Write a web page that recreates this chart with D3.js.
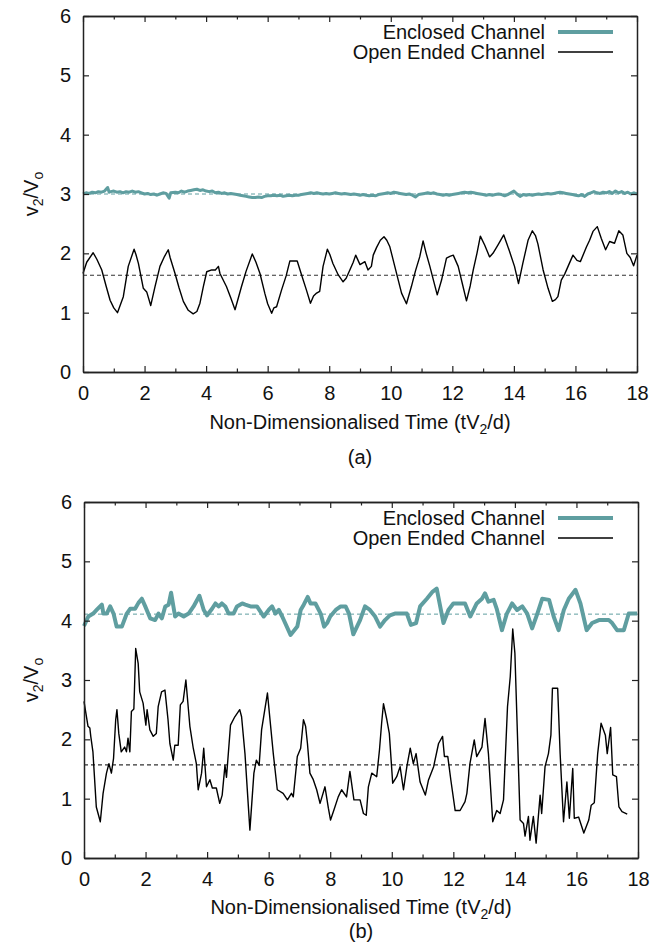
<!DOCTYPE html>
<html><head><meta charset="utf-8">
<script src="https://cdn.jsdelivr.net/npm/d3@7"></script>
<style>
body{margin:0;background:#fff}
svg{display:block}
text{font-family:"Liberation Sans",Arial,Helvetica,sans-serif;fill:#111}
</style>
</head><body>
<svg id="c" width="652" height="945"></svg>
<script>
// ---------- data ----------
const xTickValues = [0, 2, 4, 6, 8, 10, 12, 14, 16, 18];
const xMinorTickValues = [1, 3, 5, 7, 9, 11, 13, 15, 17];
const yTickValues = [0, 1, 2, 3, 4, 5, 6];
const seriesNames = ["Enclosed Channel", "Open Ended Channel"];
const panelLabels = ["(a)", "(b)"];
const meanEnclosed = [3.0, 4.11];
const meanOpen = [1.63, 1.57];

// panel (a) enclosed channel [t, v2/Vo]
const enclosedA = [
[0,3.00],[0.1,3.02],[0.2,3.01],[0.3,3.03],[0.4,3.02],[0.5,3.04],[0.6,3.03],[0.7,3.05],[0.8,3.11],[0.85,3.03],[0.9,3.04],[1.0,3.05],
[1.1,3.03],[1.2,3.04],[1.3,3.02],[1.4,3.04],[1.5,3.03],[1.6,3.05],[1.7,3.03],[1.8,3.04],[1.9,3.02],[2.0,3.00],
[2.1,3.01],[2.2,2.99],[2.3,3.00],[2.4,2.98],[2.5,3.00],[2.6,3.02],[2.7,3.01],[2.8,2.93],[2.85,3.02],[3.0,3.03],
[3.1,3.02],[3.2,3.05],[3.3,3.03],[3.4,3.05],[3.5,3.06],[3.6,3.07],[3.7,3.08],[3.8,3.06],[3.9,3.07],[4.0,3.05],
[4.1,3.04],[4.2,3.05],[4.3,3.02],[4.4,3.03],[4.5,3.01],[4.6,3.02],[4.7,3.00],[4.8,3.01],[4.9,3.00],[5.0,2.99],
[5.1,2.98],[5.2,2.97],[5.3,2.96],[5.4,2.95],[5.5,2.94],[5.6,2.94],[5.7,2.95],[5.8,2.94],[5.9,2.96],[6.0,2.97],
[6.1,2.97],[6.2,2.98],[6.3,2.97],[6.4,2.98],[6.5,2.96],[6.6,2.97],[6.7,2.98],[6.8,2.97],[6.9,2.98],[7.0,2.98],
[7.1,2.99],[7.2,3.00],[7.3,3.01],[7.4,3.02],[7.5,3.01],[7.6,3.02],[7.7,3.01],[7.8,3.00],[7.9,3.01],[8.0,3.00],
[8.1,3.01],[8.2,3.02],[8.3,3.01],[8.4,3.00],[8.5,3.01],[8.6,3.00],[8.7,2.99],[8.8,3.00],[8.9,2.99],[9.0,2.98],
[9.1,2.99],[9.2,2.98],[9.3,2.97],[9.4,2.98],[9.5,2.97],[9.6,2.99],[9.7,3.00],[9.8,3.01],[9.9,3.02],[10.0,3.01],
[10.1,3.03],[10.2,3.02],[10.3,3.01],[10.4,3.00],[10.5,2.99],[10.6,3.00],[10.7,2.98],[10.8,2.95],[10.9,2.99],[11.0,3.00],
[11.1,3.01],[11.2,3.02],[11.3,3.01],[11.4,3.02],[11.5,3.00],[11.6,2.99],[11.7,2.98],[11.8,2.99],[11.9,2.98],[12.0,2.99],
[12.1,3.00],[12.2,3.01],[12.3,3.02],[12.4,3.03],[12.5,3.02],[12.6,3.03],[12.7,3.02],[12.8,3.01],[12.9,3.00],[13.0,2.99],
[13.1,2.98],[13.2,2.99],[13.3,2.98],[13.4,2.99],[13.5,3.00],[13.6,2.99],[13.7,2.97],[13.8,2.99],[13.9,3.02],[14.0,3.05],
[14.1,3.00],[14.2,2.96],[14.3,2.99],[14.4,2.98],[14.5,2.99],[14.6,2.98],[14.7,2.99],[14.8,3.00],[14.9,2.99],[15.0,3.00],
[15.1,3.01],[15.2,3.00],[15.3,3.01],[15.4,3.02],[15.5,3.03],[15.6,3.02],[15.7,3.01],[15.8,3.00],[15.9,2.99],[16.0,2.98],
[16.1,2.97],[16.2,2.99],[16.3,2.96],[16.4,3.00],[16.5,3.02],[16.6,3.04],[16.7,3.02],[16.8,3.01],[16.9,3.03],[17.0,3.02],
[17.1,3.04],[17.2,3.01],[17.3,3.05],[17.4,3.02],[17.5,3.04],[17.6,3.01],[17.7,3.03],[17.8,3.00],[17.9,3.02],[18.0,3.00]
];

// panel (a) open ended channel
const openA = [
[0,1.66],[0.12,1.85],[0.33,2.01],[0.45,1.90],[0.61,1.72],[0.75,1.45],[0.88,1.21],[1.0,1.08],[1.12,1.00],[1.31,1.27],[1.47,1.78],
[1.66,2.07],[1.72,1.98],[1.80,1.83],[1.96,1.41],[2.07,1.35],[2.2,1.12],[2.34,1.44],[2.5,1.78],[2.65,1.95],[2.77,2.06],
[2.83,1.93],[2.99,1.66],[3.12,1.42],[3.26,1.19],[3.42,1.04],[3.58,0.98],[3.70,1.02],[3.80,1.16],[3.91,1.44],[4.02,1.69],
[4.18,1.72],[4.3,1.72],[4.4,1.78],[4.45,1.66],[4.66,1.44],[4.8,1.25],[4.94,1.05],[5.15,1.44],[5.3,1.70],[5.5,1.99],
[5.62,1.85],[5.75,1.66],[5.91,1.32],[6.0,1.15],[6.13,0.99],[6.20,1.08],[6.29,1.10],[6.45,1.38],[6.6,1.62],[6.72,1.87],
[6.96,1.87],[7.1,1.64],[7.26,1.38],[7.39,1.16],[7.49,1.28],[7.59,1.33],[7.69,1.36],[7.8,1.78],[7.94,2.07],[8.02,1.98],
[8.12,1.83],[8.29,1.64],[8.45,1.52],[8.55,1.58],[8.67,1.72],[8.78,1.85],[8.86,1.97],[9.0,1.81],[9.16,1.86],[9.26,1.72],
[9.37,1.78],[9.43,1.97],[9.54,2.10],[9.66,2.22],[9.78,2.28],[9.87,2.22],[9.97,2.11],[10.13,1.78],[10.35,1.33],[10.51,1.15],
[10.67,1.44],[10.8,1.70],[10.94,1.94],[11.05,2.21],[11.15,2.00],[11.27,1.78],[11.4,1.52],[11.51,1.30],[11.65,1.55],[11.81,1.92],
[11.92,1.95],[12.03,1.97],[12.19,1.78],[12.32,1.50],[12.46,1.20],[12.58,1.45],[12.68,1.72],[12.8,2.00],[12.91,2.29],[13.05,2.14],
[13.21,1.94],[13.32,2.00],[13.48,2.14],[13.67,2.31],[13.76,2.18],[13.86,2.03],[14.02,1.78],[14.15,1.49],[14.29,1.83],[14.46,2.22],
[14.6,2.38],[14.7,2.30],[14.78,2.16],[14.95,1.72],[15.11,1.41],[15.25,1.19],[15.35,1.22],[15.43,1.27],[15.54,1.55],[15.65,1.65],
[15.76,1.78],[15.92,1.97],[16.05,1.88],[16.16,1.86],[16.36,2.11],[16.46,2.22],[16.57,2.37],[16.71,2.45],[16.84,2.25],[16.98,2.06],
[17.11,2.20],[17.27,2.17],[17.41,2.38],[17.54,2.31],[17.67,2.00],[17.78,1.93],[17.89,1.79],[18.0,1.97]
];

// panel (b) enclosed channel
const enclosedB = [
[0,3.91],[0.14,4.07],[0.30,4.12],[0.41,4.18],[0.58,4.27],[0.63,4.12],[0.74,4.12],[0.85,4.24],[0.96,4.12],[1.06,3.90],
[1.23,3.90],[1.39,4.12],[1.50,4.20],[1.66,4.20],[1.77,4.30],[1.88,4.37],[1.99,4.24],[2.15,4.04],[2.31,4.01],[2.42,4.12],
[2.53,4.04],[2.64,4.24],[2.75,4.27],[2.83,4.47],[2.96,4.07],[3.07,4.12],[3.24,4.07],[3.40,4.12],[3.56,4.24],[3.75,4.42],
[3.89,4.18],[4.0,4.09],[4.16,4.20],[4.27,4.29],[4.38,4.24],[4.48,4.29],[4.59,4.24],[4.70,4.12],[4.86,4.12],[4.97,4.24],
[5.14,4.29],[5.24,4.27],[5.41,4.24],[5.62,4.24],[5.84,4.07],[6.0,4.18],[6.11,4.24],[6.22,4.12],[6.33,4.18],[6.44,4.07],
[6.71,3.76],[6.93,3.90],[7.04,4.18],[7.14,4.27],[7.27,4.40],[7.36,4.29],[7.52,4.29],[7.69,4.12],[7.80,3.90],[7.90,3.96],
[8.0,4.07],[8.18,4.18],[8.34,4.24],[8.50,4.24],[8.61,4.12],[8.75,3.77],[8.97,4.01],[9.13,4.24],[9.29,4.18],[9.46,4.07],
[9.62,3.90],[9.78,4.01],[9.94,4.09],[10.1,4.12],[10.49,4.12],[10.62,3.93],[10.79,3.96],[10.92,4.24],[11.14,4.37],[11.33,4.49],
[11.46,4.54],[11.68,3.96],[11.84,4.18],[12.0,4.29],[12.22,4.29],[12.38,4.29],[12.55,4.07],[12.76,4.29],[12.93,4.37],[13.03,4.46],
[13.14,4.32],[13.31,4.35],[13.41,4.20],[13.58,3.84],[13.74,4.12],[13.91,4.29],[14.07,4.18],[14.24,4.24],[14.40,4.12],[14.56,3.87],
[14.73,4.12],[14.89,4.37],[15.11,4.35],[15.26,4.07],[15.42,3.84],[15.59,4.18],[15.75,4.37],[15.97,4.52],[16.13,4.29],[16.33,3.84],
[16.51,3.96],[16.73,4.01],[16.89,4.01],[17.05,4.01],[17.16,3.96],[17.32,3.84],[17.54,3.84],[17.70,4.12],[17.97,4.12]
];

// panel (b) open ended channel
const openB = [
[0,2.64],[0.13,2.22],[0.19,2.19],[0.22,2.05],[0.29,1.79],[0.40,0.86],[0.53,0.61],[0.62,1.09],[0.73,1.43],[0.81,1.59],
[0.89,1.43],[0.96,1.68],[1.03,2.33],[1.07,2.50],[1.13,2.10],[1.21,1.79],[1.32,1.87],[1.38,1.79],[1.43,2.02],[1.49,1.79],
[1.54,2.47],[1.62,2.51],[1.68,3.53],[1.76,3.28],[1.81,2.80],[1.92,2.61],[2.01,2.24],[2.05,2.50],[2.14,2.16],[2.25,2.05],
[2.35,2.10],[2.41,2.55],[2.52,2.80],[2.63,2.83],[2.73,2.33],[2.79,1.93],[2.90,1.65],[2.95,1.90],[3.06,1.90],[3.13,2.58],
[3.22,2.64],[3.31,3.00],[3.44,2.22],[3.55,1.85],[3.65,1.59],[3.71,1.15],[3.82,1.43],[3.89,1.85],[3.98,1.20],[4.09,1.32],
[4.17,1.18],[4.30,1.18],[4.41,0.92],[4.49,1.06],[4.58,1.56],[4.63,1.36],[4.76,2.24],[4.90,2.38],[5.06,2.50],[5.12,2.38],
[5.23,1.76],[5.39,0.47],[5.52,1.43],[5.60,1.65],[5.69,1.56],[5.77,2.16],[5.96,2.78],[6.15,1.76],[6.28,1.15],[6.47,1.09],
[6.61,0.98],[6.74,1.09],[6.80,1.03],[6.93,1.71],[7.04,1.85],[7.13,2.33],[7.20,2.22],[7.26,1.93],[7.34,1.43],[7.45,1.32],
[7.56,1.15],[7.67,0.92],[7.83,1.20],[7.94,0.84],[8.01,0.64],[8.12,0.81],[8.26,1.03],[8.37,1.15],[8.53,1.03],[8.64,1.46],
[8.77,0.98],[8.97,0.98],[9.08,0.75],[9.17,0.72],[9.24,1.20],[9.35,1.43],[9.51,1.37],[9.60,1.82],[9.67,2.27],[9.73,2.60],
[9.84,2.33],[9.92,2.10],[10.03,1.26],[10.16,1.37],[10.27,1.54],[10.38,1.15],[10.49,1.54],[10.60,1.85],[10.70,1.59],[10.79,1.76],
[10.92,1.28],[11.09,1.06],[11.19,1.31],[11.36,1.54],[11.52,1.93],[11.65,2.05],[11.71,1.71],[11.82,1.71],[11.92,1.31],[12.06,0.80],
[12.22,0.80],[12.38,0.95],[12.44,1.09],[12.54,1.59],[12.68,1.99],[12.76,1.71],[12.93,1.87],[13.03,2.35],[13.14,1.76],[13.28,0.61],
[13.41,0.80],[13.52,0.75],[13.63,0.98],[13.76,2.55],[13.85,3.06],[13.93,3.86],[14.00,3.45],[14.17,0.64],[14.28,0.58],[14.33,0.37],
[14.44,0.70],[14.49,0.30],[14.60,0.70],[14.69,0.25],[14.82,1.06],[14.87,0.75],[14.98,1.54],[15.09,1.76],[15.17,2.07],[15.22,2.86],
[15.39,2.86],[15.47,1.76],[15.58,0.61],[15.69,1.28],[15.77,0.67],[15.88,1.51],[15.93,0.67],[16.07,0.69],[16.24,0.42],[16.40,0.64],
[16.48,0.89],[16.58,0.93],[16.69,1.76],[16.80,2.27],[16.94,2.07],[17.00,1.76],[17.11,2.20],[17.18,1.40],[17.30,1.37],[17.38,0.86],
[17.48,0.78],[17.65,0.74]
];

const enclosedSeries = [enclosedA, enclosedB];
const openSeries = [openA, openB];

// ---------- layout ----------
const TEAL = "#5f9ea0";
const panels = [
  {left:83, right:637, top:16, bottom:372, xTitleY:422, labelY:457, legendY:[32,52], encWidth:3},
  {left:84, right:638, top:502, bottom:858, xTitleY:907, labelY:931, legendY:[518,538], encWidth:4}
];

const svg = d3.select("#c");
const fs = 20, subFs = 14;

panels.forEach((p, i) => {
  const x = d3.scaleLinear().domain([0, 18]).range([p.left, p.right]);
  const y = d3.scaleLinear().domain([0, 6]).range([p.bottom, p.top]);
  const g = svg.append("g");

  // mean (dashed) lines
  g.append("line").attr("x1", x(0)).attr("x2", x(18)).attr("y1", y(meanEnclosed[i])).attr("y2", y(meanEnclosed[i]))
    .attr("stroke", TEAL).attr("stroke-width", 1).attr("stroke-dasharray", "4,3");
  g.append("line").attr("x1", x(0)).attr("x2", x(18)).attr("y1", y(meanOpen[i])).attr("y2", y(meanOpen[i]))
    .attr("stroke", "#333").attr("stroke-width", 1.1).attr("stroke-dasharray", "4,3");

  const line = d3.line().x(d => x(d[0])).y(d => y(d[1]));
  g.append("path").datum(enclosedSeries[i]).attr("d", line)
    .attr("fill", "none").attr("stroke", TEAL).attr("stroke-width", p.encWidth).attr("stroke-linejoin", "round");
  g.append("path").datum(openSeries[i]).attr("d", line)
    .attr("fill", "none").attr("stroke", "#000").attr("stroke-width", 1.4).attr("stroke-linejoin", "round");

  // axes
  const styleAxis = sel => {
    sel.select(".domain").attr("stroke", "#222").attr("stroke-width", 1.5);
    sel.selectAll(".tick line").attr("stroke", "#222").attr("stroke-width", 1.2);
    sel.selectAll("text").attr("font-size", fs).attr("font-family", null).attr("fill", "#111");
  };
  g.append("g").attr("transform", `translate(0,${p.bottom})`)
    .call(d3.axisBottom(x).tickValues(xTickValues).tickSize(-6).tickSizeOuter(0).tickPadding(14).tickFormat(d3.format("d")))
    .call(styleAxis);
  g.append("g").attr("transform", `translate(0,${p.bottom})`)
    .call(d3.axisBottom(x).tickValues(xMinorTickValues).tickSize(-3.5).tickSizeOuter(0).tickFormat(""))
    .call(styleAxis);
  g.append("g").attr("transform", `translate(0,${p.top})`)
    .call(d3.axisTop(x).tickValues(xTickValues).tickSize(-6).tickSizeOuter(0).tickFormat(""))
    .call(styleAxis);
  g.append("g").attr("transform", `translate(0,${p.top})`)
    .call(d3.axisTop(x).tickValues(xMinorTickValues).tickSize(-3.5).tickSizeOuter(0).tickFormat(""))
    .call(styleAxis);
  g.append("g").attr("transform", `translate(${p.left},0)`)
    .call(d3.axisLeft(y).tickValues(yTickValues).tickSize(-6).tickSizeOuter(0).tickPadding(12).tickFormat(d3.format("d")))
    .call(styleAxis);
  g.append("g").attr("transform", `translate(${p.right},0)`)
    .call(d3.axisRight(y).tickValues(yTickValues).tickSize(-6).tickSizeOuter(0).tickFormat(""))
    .call(styleAxis);

  // y-axis title
  const yt = g.append("text").attr("transform", `translate(38,${(p.top + p.bottom) / 2}) rotate(-90)`)
    .attr("text-anchor", "middle").attr("font-size", fs);
  yt.append("tspan").text("v");
  yt.append("tspan").attr("font-size", subFs).attr("dy", 5).text("2");
  yt.append("tspan").attr("dy", -5).text("/V");
  yt.append("tspan").attr("font-size", subFs).attr("dy", 5).text("o");

  // x-axis title
  const xt = g.append("text").attr("x", (p.left + p.right) / 2).attr("y", p.xTitleY + 7)
    .attr("text-anchor", "middle").attr("font-size", fs);
  xt.append("tspan").text("Non-Dimensionalised Time (tV");
  xt.append("tspan").attr("font-size", subFs).attr("dy", 5).text("2");
  xt.append("tspan").attr("dy", -5).text("/d)");

  // panel label
  g.append("text").attr("x", (p.left + p.right) / 2).attr("y", p.labelY)
    .attr("text-anchor", "middle").attr("dominant-baseline", "central").attr("font-size", fs).text(panelLabels[i]);

  // legend
  const leg = [
    {name: seriesNames[0], color: TEAL, w: 4},
    {name: seriesNames[1], color: "#000", w: 1.4}
  ];
  leg.forEach((l, k) => {
    const ly = p.legendY[k];
    g.append("text").attr("x", 545).attr("y", ly).attr("text-anchor", "end")
      .attr("dominant-baseline", "central").attr("font-size", fs).text(l.name);
    g.append("line").attr("x1", 558).attr("x2", 613).attr("y1", ly).attr("y2", ly)
      .attr("stroke", l.color).attr("stroke-width", l.w);
  });
});
</script>
</body></html>
